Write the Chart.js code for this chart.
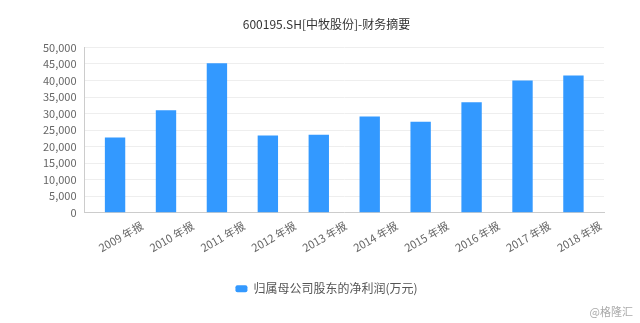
<!DOCTYPE html>
<html>
<head>
<meta charset="utf-8">
<script src="https://cdn.jsdelivr.net/npm/chart.js@4/dist/chart.umd.min.js"></script>
<style>
  html, body { margin: 0; padding: 0; background: #fff; }
  #wrap { width: 640px; height: 323px; }
</style>
</head>
<body>
<div id="wrap"><canvas id="c" width="640" height="323"></canvas></div>
<script>
// 年报类别
const categories = ['2009 年报', '2010 年报', '2011 年报', '2012 年报', '2013 年报',
                    '2014 年报', '2015 年报', '2016 年报', '2017 年报', '2018 年报'];
// 归属母公司股东的净利润(万元)
const netProfit = [22800, 31000, 45200, 23400, 23600, 29100, 27500, 33400, 40000, 41500];
const yTicks = [0, 5000, 10000, 15000, 20000, 25000, 30000, 35000, 40000, 45000, 50000];

const cjk = '"Noto Sans CJK SC", "Noto Sans", sans-serif';
const blue = '#3399ff';

new Chart(document.getElementById('c'), {
    type: 'bar',
    data: {
        datasets: [{
            label: '归属母公司股东的净利润(万元)',
            data: netProfit.map((v, i) => ({ x: i, y: v })),
            backgroundColor: blue,
            borderWidth: 0,
            barPercentage: 0.4,
            categoryPercentage: 1
        }]
    },
    options: {
        responsive: false,
        animation: false,
        devicePixelRatio: 1,
        layout: { padding: { top: 17, left: 20, right: 7, bottom: 5 } },
        plugins: {
            title: {
                display: true,
                text: '600195.SH[中牧股份]-财务摘要',
                color: '#333',
                font: { family: cjk, size: 12, weight: 'normal' },
                padding: { top: 0, bottom: 16 }
            },
            subtitle: {
                display: true,
                position: 'bottom',
                align: 'end',
                text: '@格隆汇',
                color: '#aaa',
                font: { family: cjk, size: 11 },
                padding: { top: 0, bottom: 0 }
            },
            legend: {
                position: 'bottom',
                labels: {
                    boxWidth: 12,
                    boxHeight: 7,
                    useBorderRadius: true,
                    borderRadius: 2,
                    color: '#555',
                    font: { family: cjk, size: 12 },
                    padding: 10
                }
            },
            tooltip: { enabled: false }
        },
        scales: {
            x: {
                type: 'linear',
                min: -0.6,
                max: 9.6,
                offset: false,
                grid: { display: false, drawTicks: false },
                border: { display: true, color: '#ccc' },
                afterBuildTicks: scale => {
                    scale.ticks = categories.map((_, i) => ({ value: i }));
                },
                afterFit: scale => { scale.height = 60; },
                ticks: {
                    autoSkip: false,
                    minRotation: 30,
                    maxRotation: 30,
                    labelOffset: 27,
                    color: '#666',
                    padding: 6,
                    font: { family: cjk, size: 11 },
                    callback: v => categories[v]
                }
            },
            y: {
                min: 0,
                max: 50000,
                afterBuildTicks: scale => {
                    scale.ticks = yTicks.map(v => ({ value: v }));
                },
                afterFit: scale => { scale.width = 64.5; },
                grid: { color: '#eee', drawTicks: false },
                border: { display: true, color: '#ccc' },
                ticks: {
                    color: '#666',
                    padding: 8,
                    font: { family: cjk, size: 11 },
                    callback: v => v.toLocaleString('en-US')
                }
            },
            // 右侧留白
            yRight: {
                position: 'right',
                display: true,
                grid: { display: false, drawTicks: false },
                border: { display: false },
                ticks: { display: false },
                afterFit: scale => { scale.width = 29; }
            }
        }
    }
});
</script>
</body>
</html>
